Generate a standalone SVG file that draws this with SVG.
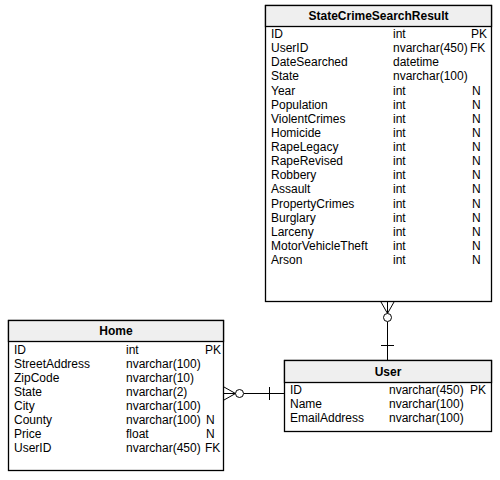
<svg xmlns="http://www.w3.org/2000/svg" width="500" height="480" viewBox="0 0 500 480">
<style>
.box{fill:#fff;stroke:#000;stroke-width:1.3}
.hdr{fill:#efefef;stroke:#000;stroke-width:1.3}
.t{font-family:"Liberation Sans",Arial,sans-serif;font-size:12px;fill:#000}
.h{font-family:"Liberation Sans",Arial,sans-serif;font-size:12px;font-weight:bold;fill:#000;text-anchor:middle}
.c{fill:none;stroke:#000;stroke-width:1}
.o{fill:#fff;stroke:#000;stroke-width:1}
</style>
<rect width="500" height="480" fill="#fff"/>
<g id="StateCrimeSearchResult">
<rect class="box" x="265.5" y="5.5" width="226" height="296"/>
<rect class="hdr" x="265.5" y="5.5" width="226" height="21"/>
<text class="h" x="378.5" y="20">StateCrimeSearchResult</text>
<g class="t">
<text x="271" y="38">ID</text><text x="393" y="38">int</text><text x="471" y="38">PK</text>
<text x="271" y="52.1">UserID</text><text x="393" y="52.1">nvarchar(450)</text><text x="470" y="52.1">FK</text>
<text x="271" y="66.3">DateSearched</text><text x="393" y="66.3">datetime</text>
<text x="271" y="80.4">State</text><text x="393" y="80.4">nvarchar(100)</text>
<text x="271" y="94.5">Year</text><text x="393" y="94.5">int</text><text x="472" y="94.5">N</text>
<text x="271" y="108.6">Population</text><text x="393" y="108.6">int</text><text x="472" y="108.6">N</text>
<text x="271" y="122.8">ViolentCrimes</text><text x="393" y="122.8">int</text><text x="472" y="122.8">N</text>
<text x="271" y="136.9">Homicide</text><text x="393" y="136.9">int</text><text x="472" y="136.9">N</text>
<text x="271" y="151">RapeLegacy</text><text x="393" y="151">int</text><text x="472" y="151">N</text>
<text x="271" y="165.1">RapeRevised</text><text x="393" y="165.1">int</text><text x="472" y="165.1">N</text>
<text x="271" y="179.3">Robbery</text><text x="393" y="179.3">int</text><text x="472" y="179.3">N</text>
<text x="271" y="193.4">Assault</text><text x="393" y="193.4">int</text><text x="472" y="193.4">N</text>
<text x="271" y="207.5">PropertyCrimes</text><text x="393" y="207.5">int</text><text x="472" y="207.5">N</text>
<text x="271" y="221.6">Burglary</text><text x="393" y="221.6">int</text><text x="472" y="221.6">N</text>
<text x="271" y="235.8">Larceny</text><text x="393" y="235.8">int</text><text x="472" y="235.8">N</text>
<text x="271" y="249.9">MotorVehicleTheft</text><text x="393" y="249.9">int</text><text x="472" y="249.9">N</text>
<text x="271" y="264">Arson</text><text x="393" y="264">int</text><text x="472" y="264">N</text>
</g>
</g>
<g id="Home">
<rect class="box" x="8.5" y="320.5" width="215" height="150"/>
<rect class="hdr" x="8.5" y="320.5" width="215" height="21"/>
<text class="h" x="116" y="335">Home</text>
<g class="t">
<text x="14" y="354">ID</text><text x="126" y="354">int</text><text x="205" y="354">PK</text>
<text x="14" y="368">StreetAddress</text><text x="126" y="368">nvarchar(100)</text>
<text x="14" y="382">ZipCode</text><text x="126" y="382">nvarchar(10)</text>
<text x="14" y="396">State</text><text x="126" y="396">nvarchar(2)</text>
<text x="14" y="410">City</text><text x="126" y="410">nvarchar(100)</text>
<text x="14" y="424">County</text><text x="126" y="424">nvarchar(100)</text><text x="206" y="424">N</text>
<text x="14" y="438">Price</text><text x="126" y="438">float</text><text x="206" y="438">N</text>
<text x="14" y="452">UserID</text><text x="126" y="452">nvarchar(450)</text><text x="205" y="452">FK</text>
</g>
</g>
<g id="User">
<rect class="box" x="284.5" y="360.5" width="207" height="71"/>
<rect class="hdr" x="284.5" y="360.5" width="207" height="22"/>
<text class="h" x="388" y="376">User</text>
<g class="t">
<text x="290" y="394">ID</text><text x="389" y="394">nvarchar(450)</text><text x="470" y="394">PK</text>
<text x="290" y="408">Name</text><text x="389" y="408">nvarchar(100)</text>
<text x="290" y="422">EmailAddress</text><text x="389" y="422">nvarchar(100)</text>
</g>
</g>
<g id="connectors">
<path class="c" d="M387.5,322 V360 M381,345.5 H394 M381,302 L387.5,313.5 M387.5,302 V313.5 M394,302 L387.5,313.5"/>
<circle class="o" cx="387.5" cy="317.5" r="4"/>
<path class="c" d="M244,393.5 H284 M269.5,387 V400 M224,387 L235.5,393.5 M224,393.5 H235.5 M224,400 L235.5,393.5"/>
<circle class="o" cx="239.5" cy="393.5" r="4"/>
</g>
</svg>
